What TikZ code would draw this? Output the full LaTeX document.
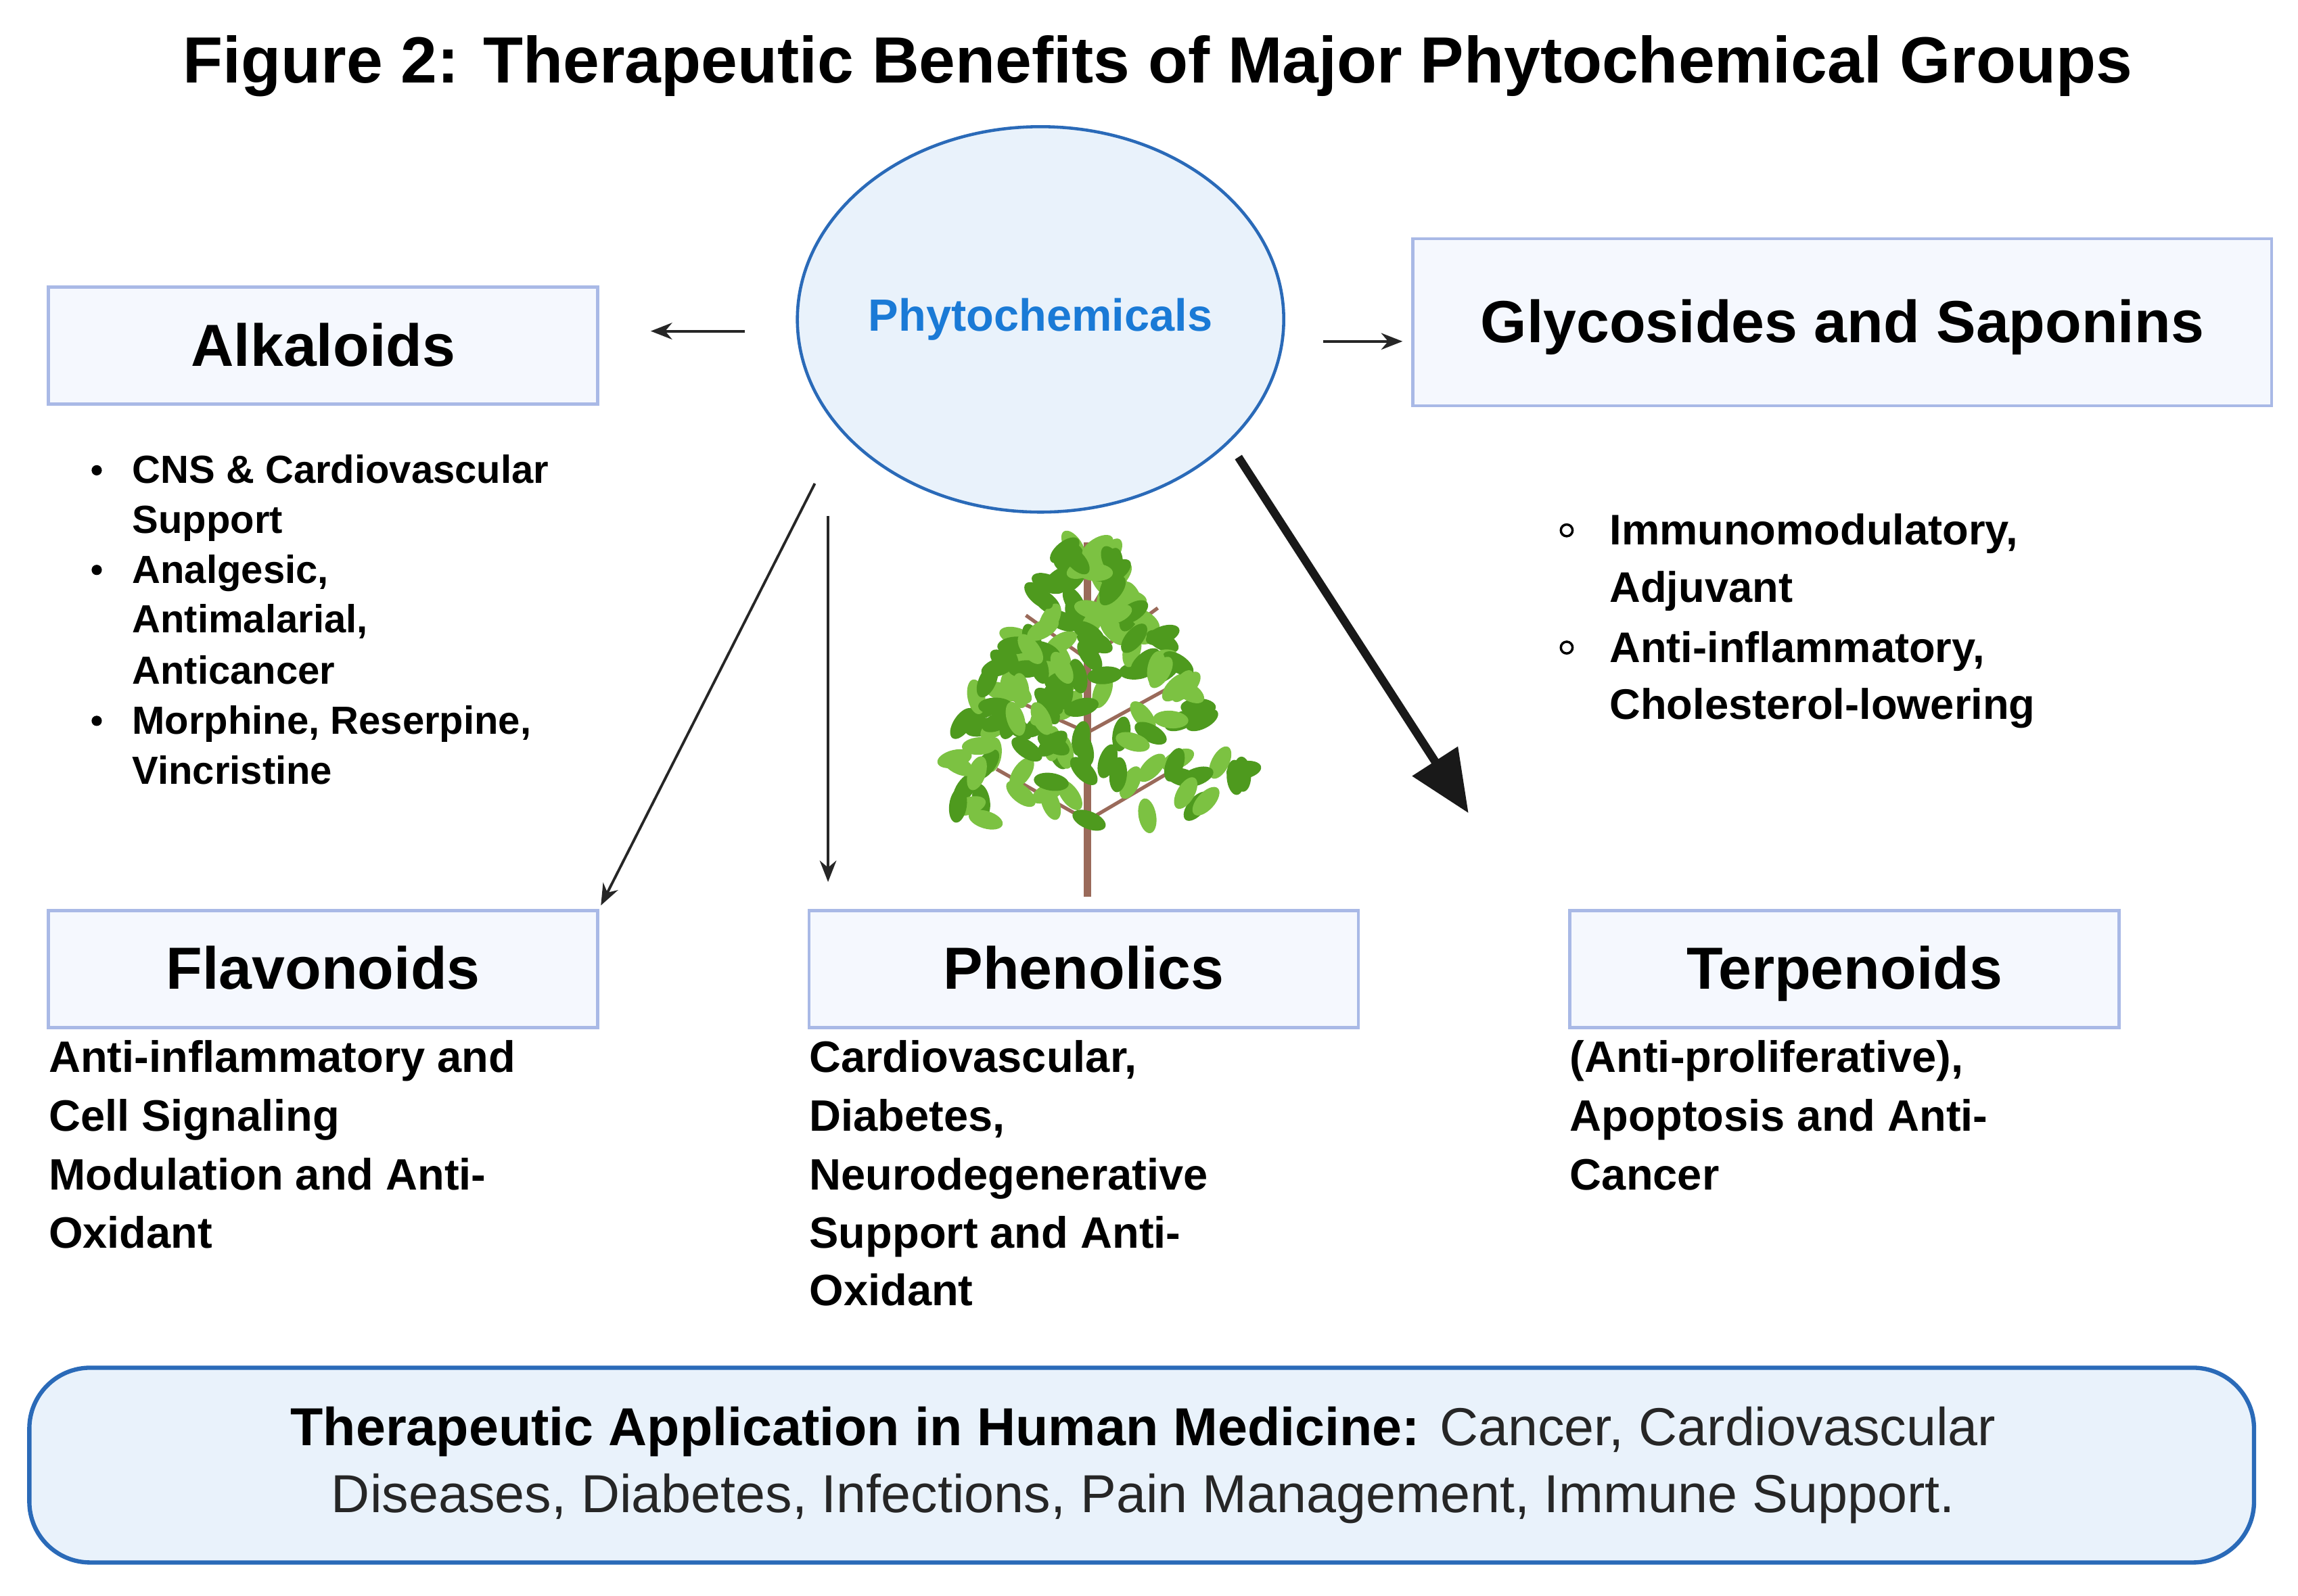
\documentclass[tikz,border=0pt]{standalone}
\usepackage{fontspec}
\setmainfont{Liberation Sans}
\usetikzlibrary{arrows.meta,shapes.geometric}
\definecolor{bbord}{HTML}{A9B9E6}
\definecolor{bfill}{HTML}{F5F8FE}
\definecolor{dblue}{HTML}{2A6AB8}
\definecolor{tblue}{HTML}{1A7AD6}
\definecolor{lfill}{HTML}{E9F2FB}
\definecolor{leaf}{HTML}{4E9A1E}
\definecolor{leafl}{HTML}{7CC242}
\definecolor{stem}{HTML}{9A6A5A}
\begin{document}
\begin{tikzpicture}[x=0.021665cm,y=-0.021665cm,
  box/.style={draw=bbord,line width=1.3pt,fill=bfill,minimum width=8.12cm,minimum height=1.73cm,text height=18pt,text depth=1pt,font=\fontsize{25}{28}\selectfont\bfseries},
  txt/.style={anchor=base west,inner sep=0pt,font=\fontsize{16.5}{20}\selectfont\bfseries},
  arr/.style={-{Stealth[length=9pt,width=7pt]},line width=1.1pt,black!85}]
\useasboundingbox (0,0) rectangle (1568,1089);
\node[font=\fontsize{27.5}{30}\selectfont\bfseries] (title) at (790,45) {Figure 2: Therapeutic Benefits of Major Phytochemical Groups};
% plant
\begin{scope}
\draw[stem,line width=3pt] (742,612) -- (742,370);
\foreach \a/\b/\c/\d in {742/560/680/525, 742/560/810/520, 742/500/675/470, 742/500/815/460, 742/450/700/420, 742/450/790/415, 742/420/760/390}
  \draw[stem,line width=1.5pt] (\a,\b) -- (\c,\d);
\pgfmathsetseed{7}
\foreach \i in {1,...,170}{
  \pgfmathsetmacro\yy{372+rnd*190}
  \pgfmathsetmacro\w{15+(\yy-372)*0.6}
  \pgfmathsetmacro\xx{742+(2*rnd-1)*\w}
  \pgfmathsetmacro\rr{rnd*360}
  \pgfmathsetmacro\cc{rnd<0.5 ? 1 : 0}
  \ifdim\cc pt>0.5pt
    \fill[leaf,rotate around={\rr:(\xx,\yy)}] (\xx,\yy) ellipse [x radius=12,y radius=6];
  \else
    \fill[leafl,rotate around={\rr:(\xx,\yy)}] (\xx,\yy) ellipse [x radius=12,y radius=6];
  \fi
}
\end{scope}
\node[ellipse,draw=dblue,line width=1.3pt,fill=lfill,inner sep=0pt,minimum width=6.75cm,minimum height=5.7cm,text=tblue,font=\fontsize{19}{22}\selectfont\bfseries] (phy) at (710,218) {Phytochemicals};
\node[box] (alk) at (220.5,236) {Alkaloids};
\node[box,minimum width=12.7cm,minimum height=2.47cm] (gly) at (1257,220) {Glycosides and Saponins};
\node[box] (fla) at (220.5,661.5) {Flavonoids};
\node[box] (phe) at (739.5,661.5) {Phenolics};
\node[box] (ter) at (1258.5,661.5) {Terpenoids};
% arrows
\coordinate (a1) at (508,226); \coordinate (a1e) at (444,226);
\coordinate (a2) at (903,233); \coordinate (a2e) at (957,233);
\coordinate (a3) at (556,330); \coordinate (a3e) at (410,618);
\coordinate (a4) at (565,352); \coordinate (a4e) at (565,602);
\coordinate (a5) at (845,312); \coordinate (a5e) at (1002,555);
\draw[arr] (a1) -- (a1e);
\draw[arr] (a2) -- (a2e);
\draw[arr] (a3) -- (a3e);
\draw[arr] (a4) -- (a4e);
\draw[-{Triangle[length=26pt,width=22pt]},line width=3.5pt,black!90] (a5) -- (a5e);
% alkaloid list
\foreach \y/\t/\b in {321/{CNS \& Cardiovascular}/1,355/Support/0,389/{Analgesic,}/1,423/{Antimalarial,}/0,458/Anticancer/0,492/{Morphine, Reserpine,}/1,526/Vincristine/0}{
  \node[txt] (al\y) at (90,\y+9) {\t};
  \ifnum\b=1 \fill (66,\y) circle (3.5); \fi
}
\foreach \y/\t/\b in {362/{Immunomodulatory,}/1,401/Adjuvant/0,442/{Anti-inflammatory,}/1,481/Cholesterol-lowering/0}{
  \node[txt,font=\fontsize{18}{20}\selectfont\bfseries] (gl\y) at (1098,\y+10) {\t};
  \ifnum\b=1 \draw[line width=1pt] (1069,\y) circle (4); \fi
}
\foreach \y/\t in {722/Anti-inflammatory and,762/Cell Signaling,802/Modulation and Anti-,842/Oxidant}
  \node[txt,font=\fontsize{18.5}{20}\selectfont\bfseries] (fl\y) at (33,\y+10) {\t};
\foreach \y/\t in {722/{Cardiovascular,},762/{Diabetes,},802/Neurodegenerative,842/Support and Anti-,881/Oxidant}
  \node[txt,font=\fontsize{18.5}{20}\selectfont\bfseries] (ph\y) at (552,\y+10) {\t};
\foreach \y/\t in {722/{(Anti-proliferative),},762/Apoptosis and Anti-,802/Cancer}
  \node[txt,font=\fontsize{18.5}{20}\selectfont\bfseries] (te\y) at (1071,\y+10) {\t};
% bottom
\node[draw=dblue,line width=1.8pt,fill=lfill,rounded corners=0.9cm,minimum width=32.89cm,minimum height=2.88cm] (bot) at (779,1000) {};
\node[font=\fontsize{22.5}{28}\selectfont,align=center,text=black!85] (bt) at (780,1000) {\textbf{\color{black}Therapeutic Application in Human Medicine:} Cancer, Cardiovascular\\Diseases, Diabetes, Infections, Pain Management, Immune Support.};
\end{tikzpicture}
\end{document}
